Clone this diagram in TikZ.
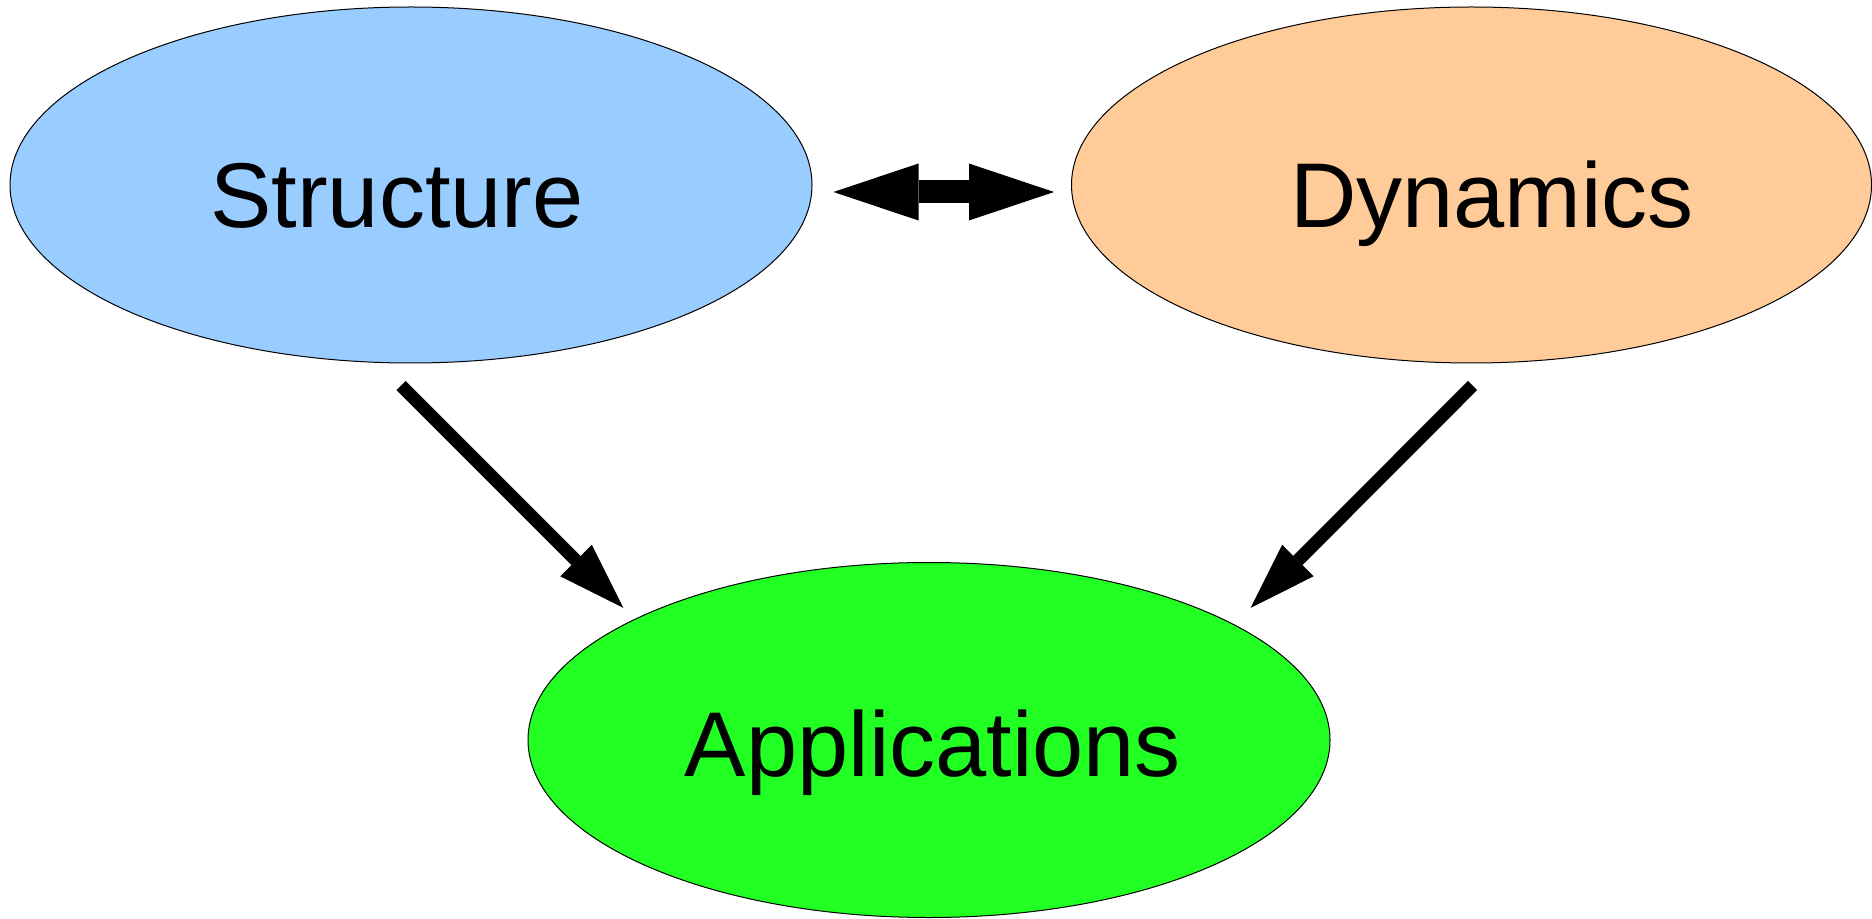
\documentclass[tikz,border=0pt]{standalone}
\usepackage{fontspec}
\setmainfont{Liberation Sans}
\usetikzlibrary{shapes.geometric,arrows.meta,calc}
\definecolor{sblue}{HTML}{99CCFF}
\definecolor{dorange}{HTML}{FFCC99}
\definecolor{agreen}{HTML}{22FF22}
\begin{document}
\begin{tikzpicture}[x=0.5pt,y=-0.5pt,
  blob/.style={ellipse, draw=black, line width=0.5pt, inner sep=0pt},
  lbl/.style={anchor=base, inner sep=0pt, font=\fontsize{46}{55}\selectfont},
  bigarrow/.style={draw=black, line width=11.5pt,
    {Triangle[length=42.5pt, width=28.5pt, line width=0pt]}-{Triangle[length=42.5pt, width=28.5pt, line width=0pt]}},
  diagarrow/.style={draw=black, line width=6.5pt,
    -{Triangle[length=33.4pt, width=22.3pt, line width=0pt]}}]
\useasboundingbox (0,0) rectangle (1872,919);
% ellipses
\node[blob, fill=sblue, minimum width=401pt, minimum height=178pt] (S) at (411,185) {};
\node[blob, fill=dorange, minimum width=400pt, minimum height=178pt] (D) at (1471.5,185) {};
\node[blob, fill=agreen, minimum width=401pt, minimum height=177.5pt] (A) at (929,740) {};
% labels
\node[lbl] (st) at (397,228) {Structure};
\node[lbl] (dt) at (1492,228) {Dynamics};
\node[lbl] (at) at (933,776) {Applications};
% connector ends
\coordinate (sa) at ($(S.south)+(-10,22)$);
\coordinate (as) at ($(sa)+(222.3,222.3)$);
\coordinate (da) at ($(D.south)+(1,22)$);
\coordinate (ad) at ($(da)+(-221.8,222.3)$);
% arrows
\draw[bigarrow, shorten <=10.5pt, shorten >=8.5pt] ([yshift=-3.5pt]S.east) -- ([yshift=-3.5pt]D.west);
\draw[diagarrow] (sa) -- (as);
\draw[diagarrow] (da) -- (ad);
\end{tikzpicture}
\end{document}
